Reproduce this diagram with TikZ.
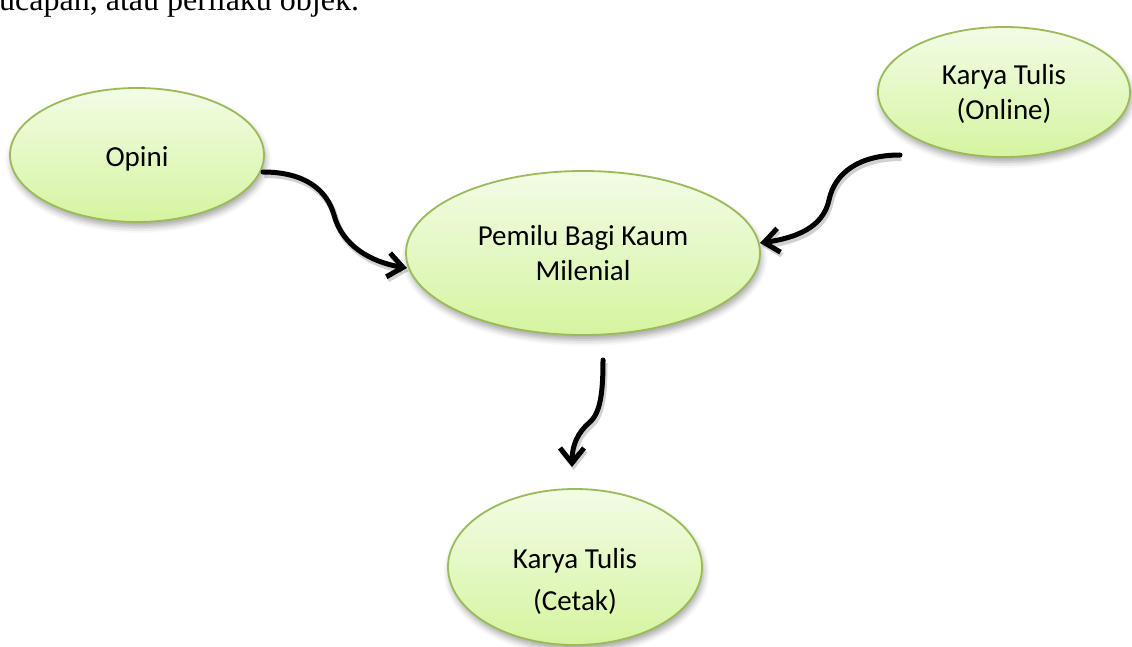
\documentclass[tikz,border=0pt]{standalone}
\usepackage{fontspec}
\setmainfont{Liberation Serif}
\newfontfamily\calibri{Carlito}
\usetikzlibrary{shapes.geometric,arrows.meta,shadows.blur}
\definecolor{bubbleedge}{HTML}{9BBB59}
\definecolor{bubbletop}{HTML}{F2FCE6}
\definecolor{bubblebot}{HTML}{D6F4A0}
\begin{document}
\begin{tikzpicture}[x=1pt,y=-1pt,
  bubble/.style={ellipse, draw=bubbleedge, line width=1.8pt,
    top color=bubbletop, bottom color=bubblebot, inner sep=0pt,
    align=center, font=\calibri\fontsize{29}{35}\selectfont,
    blur shadow={shadow xshift=1.5pt, shadow yshift=-5pt,
      shadow blur radius=6pt, shadow opacity=35}},
  flow/.style={line width=5pt, line cap=round,
    -{Straight Barb[length=15pt,width=24pt,line width=5pt]},
    preaction={draw=black, opacity=0.18, line width=6pt,
      transform canvas={shift={(1.5pt,-3pt)}}}}]
\useasboundingbox (0,0) rectangle (1132,647);
\clip (0,0) rectangle (1132,647);

\node[anchor=base west, inner sep=0pt, font=\fontsize{32}{38}\selectfont]
  (toptext) at (-1,11) {ucapan, atau perilaku objek.};

\node[bubble, minimum width=254pt, minimum height=134pt,
  text height=30pt, text depth=6pt] (opini) at (137,155) {Opini};
\node[bubble, minimum width=252pt, minimum height=130pt,
  text height=62pt, text depth=6pt] (online) at (1004,92) {Karya Tulis\\(Online)};
\node[bubble, minimum width=354pt, minimum height=164pt,
  text height=60pt, text depth=6pt] (pemilu) at (583,253) {Pemilu Bagi Kaum\\Milenial};
\node[bubble, minimum width=254pt, minimum height=156pt,
  text height=92pt, text depth=6pt] (cetak) at (575,567) {Karya Tulis\\[7pt](Cetak)};

\draw[flow] ([shift={(126,17)}]opini.center)
  .. controls (305,172) and (327,190) .. (334,215)
  .. controls (342,245) and (370,262) .. ([shift={(-176,15)}]pemilu.center);
\draw[flow] ([shift={(-104,63)}]online.center)
  .. controls (860,155) and (835,172) .. (829,200)
  .. controls (823,228) and (795,238) .. ([shift={(177,-10)}]pemilu.center);
\draw[flow] ([shift={(20,107)}]pemilu.center)
  .. controls (603,390) and (601,412) .. (590,422)
  .. controls (578,432) and (572,445) .. ([shift={(-3,-100)}]cetak.center);
\end{tikzpicture}
\end{document}
